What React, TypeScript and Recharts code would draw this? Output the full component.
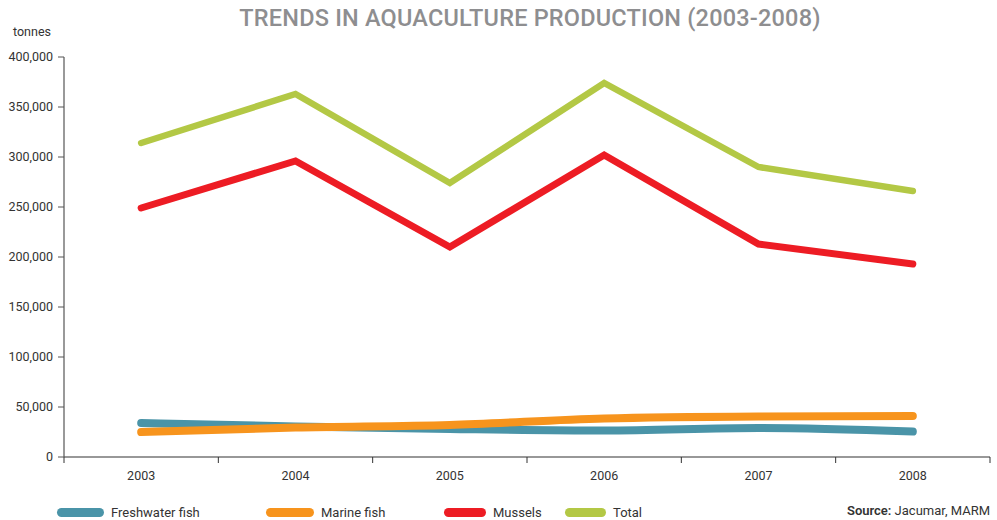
import React from "react";
import { LineChart, Line, XAxis, YAxis } from "recharts";

const years = [2003, 2004, 2005, 2006, 2007, 2008];
const freshwater = [34000, 30500, 28000, 26500, 29000, 25500];
const marine = [25000, 29500, 32000, 38500, 40500, 41000];
const mussels = [249000, 296000, 210000, 302000, 213000, 193000];
const total = [314000, 363000, 274000, 374000, 290000, 266000];
const yTicks = [0, 50000, 100000, 150000, 200000, 250000, 300000, 350000, 400000];

const series = [
  { key: "freshwater", name: "Freshwater fish", color: "#4a94a8", width: 8, type: "monotone" },
  { key: "marine", name: "Marine fish", color: "#f7941d", width: 8, type: "monotone" },
  { key: "mussels", name: "Mussels", color: "#ed1c24", width: 7, type: "linear" },
  { key: "total", name: "Total", color: "#b3c845", width: 6.5, type: "linear" },
];

const data = years.map((y, i) => ({
  year: y,
  freshwater: freshwater[i],
  marine: marine[i],
  mussels: mussels[i],
  total: total[i],
}));

// labels at the years, tick marks between them
const xTicks = [2002.5, ...years.flatMap((y) => [y, y + 0.5])];

const font = "Roboto, 'DejaVu Sans', sans-serif";

const XTick = (props: any) => {
  const { x, y, payload } = props;
  const v = payload.value;
  if (v % 1 !== 0) {
    return <line x1={x} x2={x} y1={y} y2={y + 6} stroke="#333" strokeWidth={1} />;
  }
  return (
    <text x={x} y={y + 23} textAnchor="middle" fill="#333" fontSize={12.5} fontFamily={font}>
      {v}
    </text>
  );
};

const LegendBox = () => (
  <div style={{ position: "absolute", left: 0, top: 502, width: 997, height: 20, fontFamily: font, fontSize: 13, color: "#333" }}>
    {series.map((s, i) => {
      const lefts = [57, 266, 444, 565];
      const widths = [47, 48, 42, 41];
      return (
        <div key={s.key} style={{ position: "absolute", left: lefts[i], top: 0, display: "flex", alignItems: "center", height: 20 }}>
          <span style={{ display: "inline-block", width: widths[i], height: 9, borderRadius: 5, background: s.color, marginRight: 7 }} />
          <span>{s.name}</span>
        </div>
      );
    })}
  </div>
);

export default function App() {
  return (
    <div style={{ position: "absolute", left: 0, top: 0, width: 997, height: 520, background: "#fff", fontFamily: font }}>
      <div style={{ position: "absolute", left: 0, width: 1060, top: 4, textAlign: "center", fontSize: 23.5, fontWeight: 500, color: "#8e8e90", letterSpacing: 0.2 }}>
        TRENDS IN AQUACULTURE PRODUCTION (2003-2008)
      </div>
      <div style={{ position: "absolute", left: 13, top: 24, fontSize: 12.5, color: "#333" }}>tonnes</div>
      <LineChart width={997} height={520} data={data} margin={{ top: 57, right: 7, bottom: 33, left: 0 }}>
        <XAxis
          dataKey="year"
          type="number"
          domain={[2002.5, 2008.5]}
          ticks={xTicks}
          interval={0}
          tick={<XTick />}
          tickLine={false}
          tickSize={0}
          tickMargin={0}
          axisLine={{ stroke: "#333", strokeWidth: 1.2 }}
          height={30}
        />
        <YAxis
          domain={[0, 400000]}
          ticks={yTicks}
          interval={0}
          width={64}
          tickSize={6}
          tickMargin={5}
          tickLine={{ stroke: "#555" }}
          axisLine={{ stroke: "#555", strokeWidth: 1.2 }}
          tick={{ fill: "#333", fontSize: 12.5, fontFamily: font }}
          tickFormatter={(v: number) => v.toLocaleString("en-US")}
        />
        {series.map((s) => (
          <Line
            key={s.key}
            dataKey={s.key}
            name={s.name}
            type={s.type as any}
            stroke={s.color}
            strokeWidth={s.width}
            strokeLinecap="round"
            strokeLinejoin="miter"
            dot={false}
            activeDot={false}
            isAnimationActive={false}
          />
        ))}
      </LineChart>
      <LegendBox />
      <div style={{ position: "absolute", right: 7, top: 503, fontSize: 13, color: "#333" }}>
        <b style={{ fontWeight: 600 }}>Source:</b> Jacumar, MARM
      </div>
    </div>
  );
}
